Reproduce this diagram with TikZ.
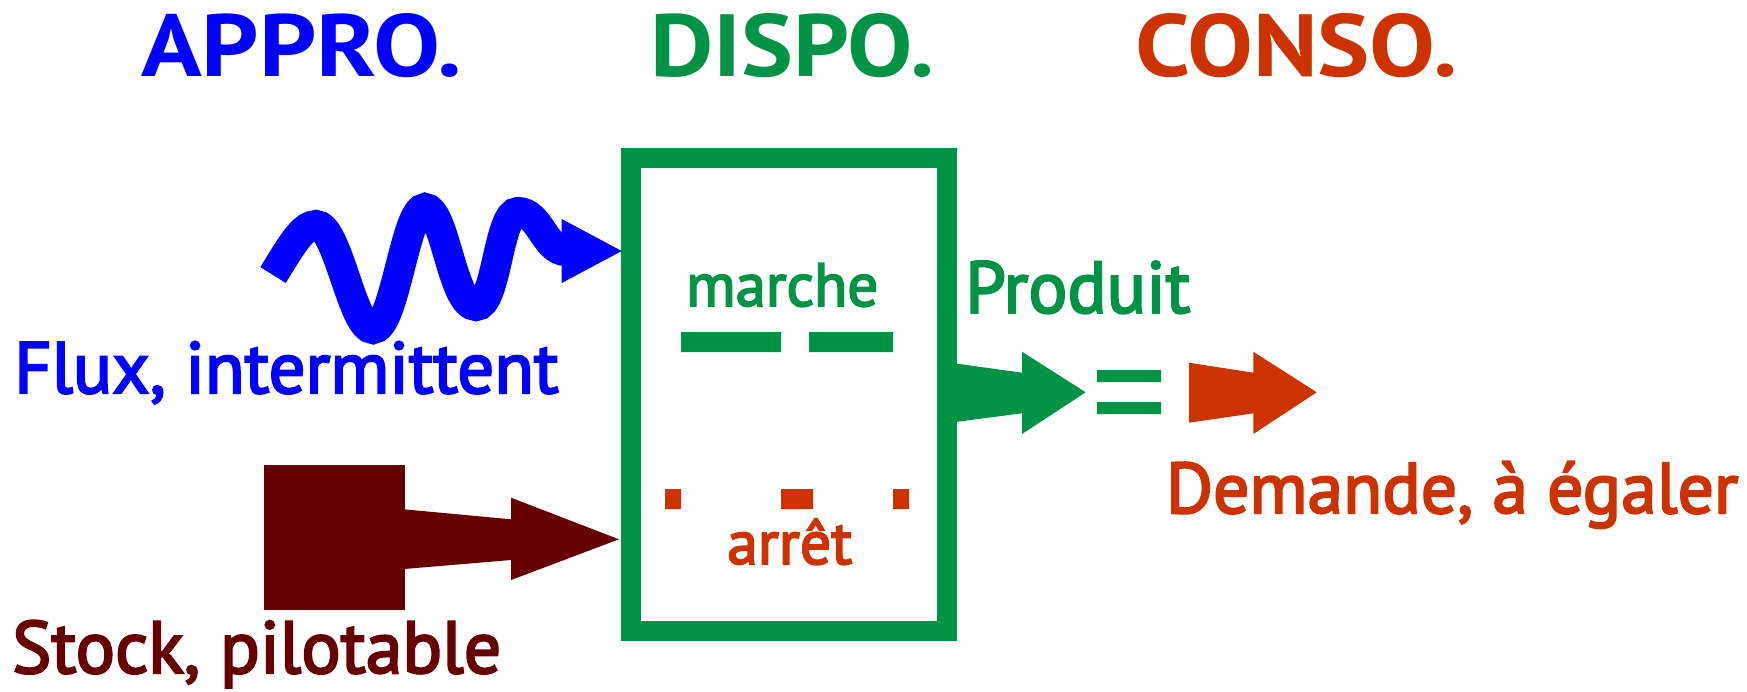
\documentclass[tikz,border=0pt]{standalone}
\usepackage{fontspec}
\setmainfont{PT Sans}
\newfontfamily\labfont[FakeBold=3]{PT Sans}
\usetikzlibrary{arrows.meta}
\definecolor{cblue}{RGB}{0,0,255}
\definecolor{cgreen}{RGB}{0,146,69}
\definecolor{cred}{RGB}{204,51,0}
\definecolor{cbrown}{RGB}{102,0,0}
\newcommand\fitw[2]{\resizebox{#1pt}{!}{#2}}
\newcommand\fitwh[3]{\resizebox{#1pt}{#2pt}{#3}}
\begin{document}
\begin{tikzpicture}[x=1pt,y=-1pt,
  lab/.style={anchor=base west, inner sep=0pt, font=\labfont},
  ttl/.style={anchor=base west, inner sep=0pt, font=\bfseries}]
\useasboundingbox (0,0) rectangle (1747,691);
% titles
\node[ttl,text=cblue] (appro) at (141,76) {\fitwh{321}{63}{APPRO.}};
\node[ttl,text=cgreen] (dispo) at (650,76) {\fitwh{284}{63}{DISPO.}};
\node[ttl,text=cred] (conso) at (1135,76) {\fitwh{322}{63}{CONSO.}};
% central box
\node[draw=cgreen, line width=20pt, minimum width=316pt, minimum height=473pt, inner sep=0pt] (box) at (789,394.5) {};
\node[lab,text=cgreen] (marche) at (686,306) {\fitw{192}{marche}};
\fill[cgreen] (681,332) rectangle (781,352) (809,332) rectangle (893,352);
\fill[cred] (665,489) rectangle (681,509) (781,489) rectangle (813,509) (893,489) rectangle (909,509);
\node[lab,text=cred] (arret) at (727,564) {\fitw{125}{arrêt}};
% blue wavy arrow
\draw[cblue, line width=30pt] (273,275) .. controls (290,248) and (302,225) .. (316,225)
  .. controls (338,225) and (352,329) .. (373,329)
  .. controls (395,329) and (405,208) .. (425,208)
  .. controls (445,208) and (452,306) .. (476,306)
  .. controls (497,306) and (498,212) .. (518,212)
  .. controls (540,212) and (545,251) .. (566,251);
\fill[cblue] (561.7,219) -- (621.7,251) -- (561.7,283) -- cycle;
\node[lab,text=cblue] (flux) at (14,393) {\fitw{544}{Flux, intermittent}};
% brown stock arrow
\fill[cbrown] (264,465) rectangle (405,610);
\fill[cbrown] (404,509.3) -- (511,519.3) -- (511,497.7) -- (619,539.3) -- (511,580) -- (511,560) -- (404,569) -- cycle;
\node[lab,text=cbrown] (stock) at (12,673) {\fitw{489}{Stock, pilotable}};
% output
\fill[cgreen] (950,362.7) -- (1022,372.7) -- (1022,351.7) -- (1085.7,392.3) -- (1022,434) -- (1022,413.3) -- (950,422.7) -- cycle;
\node[lab,text=cgreen] (produit) at (965,312.7) {\fitw{225}{Produit}};
\fill[cgreen] (1097,370) rectangle (1161,382) (1097,402) rectangle (1161,414);
\fill[cred] (1189,362.7) -- (1253.3,372.7) -- (1253.3,351.7) -- (1316.7,392.3) -- (1253.3,434) -- (1253.3,413.3) -- (1189,422.7) -- cycle;
\node[lab,text=cred] (demande) at (1166,513) {\fitw{572}{Demande, à égaler}};
\end{tikzpicture}
\end{document}
